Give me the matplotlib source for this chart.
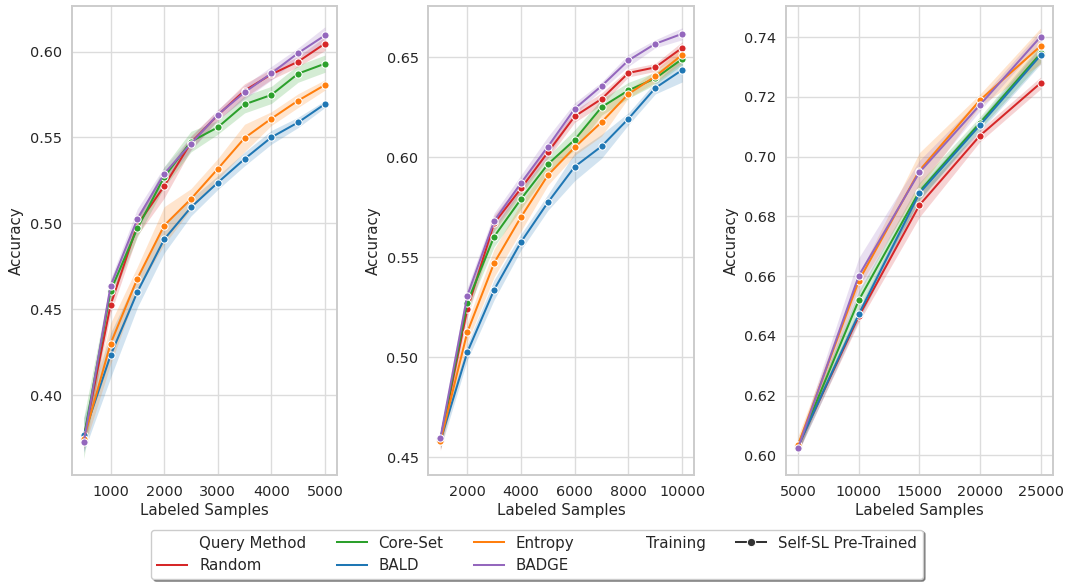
import matplotlib
matplotlib.use("Agg")
import matplotlib.pyplot as plt
from matplotlib.lines import Line2D

# ---- data -------------------------------------------------------------
methods = ["Random", "Core-Set", "BALD", "Entropy", "BADGE"]
palette = {"Random": "#d62728", "Core-Set": "#2ca02c", "BALD": "#1f77b4",
           "Entropy": "#ff7f0e", "BADGE": "#9467bd"}

# Panel A: small budget
samples_a = [500, 1000, 1500, 2000, 2500, 3000, 3500, 4000, 4500, 5000]
acc_a = {
    "Random":   [0.3745, 0.4524, 0.4990, 0.5217, 0.5470, 0.5630, 0.5773, 0.5868, 0.5942, 0.6047],
    "Core-Set": [0.3750, 0.4606, 0.4971, 0.5270, 0.5476, 0.5559, 0.5693, 0.5748, 0.5872, 0.5930],
    "BALD":     [0.3767, 0.4231, 0.4600, 0.4907, 0.5093, 0.5237, 0.5375, 0.5501, 0.5588, 0.5695],
    "Entropy":  [0.3745, 0.4299, 0.4678, 0.4987, 0.5142, 0.5317, 0.5497, 0.5610, 0.5715, 0.5806],
    "BADGE":    [0.3724, 0.4635, 0.5025, 0.5289, 0.5464, 0.5633, 0.5763, 0.5874, 0.5992, 0.6095],
}
ci_a = {
    "Random":   [0.006, 0.005, 0.006, 0.007, 0.004, 0.003, 0.004, 0.003, 0.003, 0.004],
    "Core-Set": [0.012, 0.006, 0.005, 0.006, 0.006, 0.004, 0.005, 0.005, 0.005, 0.005],
    "BALD":     [0.010, 0.013, 0.009, 0.008, 0.005, 0.004, 0.004, 0.004, 0.003, 0.002],
    "Entropy":  [0.006, 0.012, 0.007, 0.011, 0.006, 0.006, 0.008, 0.004, 0.004, 0.003],
    "BADGE":    [0.006, 0.004, 0.006, 0.004, 0.004, 0.003, 0.004, 0.004, 0.003, 0.005],
}

# Panel B: medium budget
samples_b = [1000, 2000, 3000, 4000, 5000, 6000, 7000, 8000, 9000, 10000]
acc_b = {
    "Random":   [0.4582, 0.5239, 0.5670, 0.5844, 0.6025, 0.6205, 0.6292, 0.6422, 0.6450, 0.6548],
    "Core-Set": [0.4585, 0.5272, 0.5603, 0.5791, 0.5965, 0.6088, 0.6251, 0.6335, 0.6395, 0.6492],
    "BALD":     [0.4580, 0.5024, 0.5337, 0.5576, 0.5774, 0.5953, 0.6055, 0.6193, 0.6347, 0.6437],
    "Entropy":  [0.4578, 0.5124, 0.5471, 0.5701, 0.5910, 0.6050, 0.6176, 0.6317, 0.6405, 0.6513],
    "BADGE":    [0.4594, 0.5307, 0.5681, 0.5871, 0.6053, 0.6243, 0.6357, 0.6485, 0.6568, 0.6618],
}
ci_b = {
    "Random":   [0.005, 0.004, 0.004, 0.003, 0.003, 0.003, 0.003, 0.002, 0.002, 0.003],
    "Core-Set": [0.004, 0.004, 0.005, 0.005, 0.004, 0.005, 0.004, 0.004, 0.003, 0.003],
    "BALD":     [0.004, 0.004, 0.005, 0.004, 0.004, 0.007, 0.006, 0.003, 0.003, 0.006],
    "Entropy":  [0.004, 0.005, 0.007, 0.007, 0.005, 0.004, 0.007, 0.002, 0.003, 0.004],
    "BADGE":    [0.005, 0.004, 0.004, 0.004, 0.005, 0.003, 0.002, 0.003, 0.002, 0.003],
}

# Panel C: large budget
samples_c = [5000, 10000, 15000, 20000, 25000]
acc_c = {
    "Random":   [0.6032, 0.6465, 0.6837, 0.7070, 0.7246],
    "Core-Set": [0.6032, 0.6519, 0.6883, 0.7113, 0.7345],
    "BALD":     [0.6030, 0.6472, 0.6877, 0.7105, 0.7339],
    "Entropy":  [0.6035, 0.6584, 0.6953, 0.7189, 0.7370],
    "BADGE":    [0.6025, 0.6601, 0.6947, 0.7173, 0.7401],
}
ci_c = {
    "Random":   [0.002, 0.002, 0.004, 0.002, 0.002],
    "Core-Set": [0.002, 0.003, 0.003, 0.002, 0.003],
    "BALD":     [0.002, 0.002, 0.002, 0.002, 0.003],
    "Entropy":  [0.003, 0.002, 0.006, 0.002, 0.006],
    "BADGE":    [0.002, 0.006, 0.004, 0.002, 0.002],
}

xticks_a = [1000, 2000, 3000, 4000, 5000]
xticks_b = [2000, 4000, 6000, 8000, 10000]
xticks_c = [5000, 10000, 15000, 20000, 25000]
yticks_a = [0.40, 0.45, 0.50, 0.55, 0.60]
yticks_b = [0.45, 0.50, 0.55, 0.60, 0.65]
yticks_c = [0.60, 0.62, 0.64, 0.66, 0.68, 0.70, 0.72, 0.74]

# ---- style ------------------------------------------------------------
TEXT = "#262626"
GRID = "#dcdcdc"
SPINE = "#cccccc"
plt.rcParams.update({
    "font.family": "DejaVu Sans",
    "text.color": TEXT,
    "axes.labelcolor": TEXT,
    "xtick.color": TEXT,
    "ytick.color": TEXT,
})

fig = plt.figure(figsize=(10.70, 5.82), dpi=100)

W, H = 1070.0, 582.0
panel_px = [(71.7, 337.0), (428.3, 694.3), (786.0, 1052.7)]
top_px, bottom_px = 6.0, 475.0

panels = [
    (samples_a, acc_a, ci_a, xticks_a, yticks_a, (275, 5225), (0.3534, 0.6266)),
    (samples_b, acc_b, ci_b, xticks_b, yticks_b, (550, 10450), (0.4410, 0.6757)),
    (samples_c, acc_c, ci_c, xticks_c, yticks_c, (4000, 26000), (0.5934, 0.7504)),
]

for (l, r), (xs, acc, ci, xt, yt, xlim, ylim) in zip(panel_px, panels):
    ax = fig.add_axes([l / W, (H - bottom_px) / H, (r - l) / W, (bottom_px - top_px) / H])
    ax.set_facecolor("white")
    for m in methods:
        lo = [a - c for a, c in zip(acc[m], ci[m])]
        hi = [a + c for a, c in zip(acc[m], ci[m])]
        ax.fill_between(xs, lo, hi, color=palette[m], alpha=0.2, linewidth=0)
        ax.plot(xs, acc[m], color=palette[m], linewidth=1.45, marker="o",
                markersize=5.2, markeredgecolor="white", markeredgewidth=0.75)
    ax.set_xlim(*xlim)
    ax.set_ylim(*ylim)
    ax.set_xticks(xt)
    ax.set_yticks(yt)
    ax.set_yticklabels([f"{v:.2f}" for v in yt])
    ax.grid(True, color=GRID, linewidth=1.0)
    ax.set_axisbelow(True)
    for s in ax.spines.values():
        s.set_color(SPINE)
        s.set_linewidth(1.4)
    ax.tick_params(length=0, pad=7, labelsize=10.4)
    ax.set_xlabel("Labeled Samples", fontsize=10.8, labelpad=3)
    ax.set_ylabel("Accuracy", fontsize=10.8, labelpad=4)

# ---- legend -----------------------------------------------------------
blank = Line2D([], [], linestyle="none", marker=None)
handles = [blank]
labels = ["Query Method"]
for m in methods:
    handles.append(Line2D([], [], color=palette[m], linewidth=1.45))
    labels.append(m)
handles.append(blank)
labels.append("Training")
handles.append(Line2D([], [], color="#333333", linewidth=1.45, marker="o",
                      markersize=6, markeredgecolor="white", markeredgewidth=0.75))
labels.append("Self-SL Pre-Trained")

leg = fig.legend(handles, labels, ncol=5, loc="lower center",
                 bbox_to_anchor=(0.502, 0.005), borderaxespad=0.0,
                 fontsize=10.8, frameon=True,
                 shadow={"ox": 1.5, "oy": -1.5, "alpha": 0.6},
                 fancybox=True, handlelength=2.0,
                 columnspacing=2.0, labelspacing=0.5, borderpad=0.4)
leg.get_frame().set_edgecolor(SPINE)
leg.get_frame().set_facecolor("white")

fig.savefig("out.png", dpi=100)
